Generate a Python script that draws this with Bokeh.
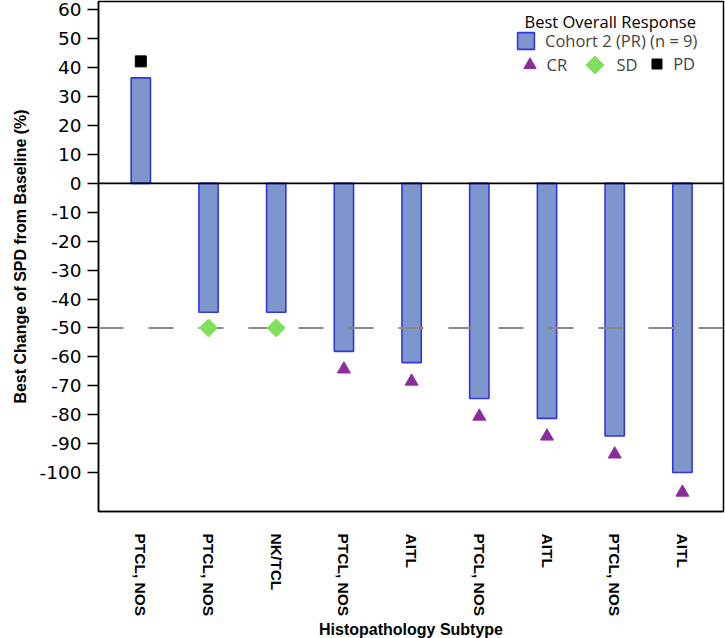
from bokeh.embed import file_html
from bokeh.models import (ColumnDataSource, FixedTicker, Label, Legend,
                          LegendItem, Range1d, Span)
from bokeh.plotting import figure
from bokeh.resources import INLINE

# Per-patient histopathology subtype (x-axis tick labels)
subtypes = ["PTCL, NOS", "PTCL, NOS", "NK/TCL", "PTCL, NOS", "AITL",
            "PTCL, NOS", "AITL", "PTCL, NOS", "AITL"]

# Best change of SPD from baseline (%) for each patient
best_change = [36.5, -44.6, -44.6, -58.1, -62.0, -74.4, -81.3, -87.4, -100.0]

# Best overall response and where its marker sits
response = ["PD", "SD", "SD", "CR", "CR", "CR", "CR", "CR", "CR"]
marker_y = [42.2, -50.0, -50.0, -64.3, -68.5, -80.6, -87.5, -93.7, -106.9]

y_ticks = list(range(-100, 61, 10))

positions = list(range(len(subtypes)))

TICK_FONT = "DejaVu Sans"
BOLD_FONT = "Liberation Sans"
LEGEND_FONT = "Open Sans"
LEGEND_SIZE = "16.5px"

CR_COLOR = "#8C2C9C"
SD_COLOR = "#80E05C"
PD_COLOR = "black"

p = figure(
    frame_width=625, frame_height=510,
    min_border_left=98, min_border_right=2, min_border_top=1, min_border_bottom=127,
    x_range=Range1d(-0.625, 8.607), y_range=Range1d(-113.5, 62.9),
    output_backend="svg", toolbar_location=None,
    background_fill_color="white", border_fill_color="white",
)
p.xgrid.visible = False
p.ygrid.visible = False
p.outline_line_color = "black"
p.outline_line_width = 1.5
p.outline_line_alpha = 1.0

bars_src = ColumnDataSource(dict(x=positions, top=best_change))
bars = p.vbar(x="x", top="top", bottom=0, width=0.285, source=bars_src,
              fill_color="#7D97CD", line_color="#3535E0", line_width=1.6)

# Reference lines: zero and the -50% partial-response threshold
p.add_layout(Span(location=0, dimension="width", line_color="black", line_width=1.8))
p.add_layout(Span(location=-50, dimension="width", line_color="#8a8a8a",
                  line_width=2, line_dash="25 25"))


def pick(kind):
    xs = [x for x, r in zip(positions, response) if r == kind]
    ys = [y for y, r in zip(marker_y, response) if r == kind]
    return ColumnDataSource(dict(x=xs, y=ys))


cr = p.scatter("x", "y", source=pick("CR"), marker="triangle", size=13,
               fill_color=CR_COLOR, line_color=CR_COLOR, level="overlay")
# SD: four-sided polygon standing on a corner (a diamond), sized in pixels
sd = p.ngon("x", "y", source=pick("SD"), radius=9, radius_units="screen", n=4,
            fill_color=SD_COLOR, line_color=SD_COLOR, level="overlay")
pd_ = p.scatter("x", "y", source=pick("PD"), marker="square", size=11,
                fill_color=PD_COLOR, line_color=PD_COLOR, level="overlay")

# Axes
p.xaxis.ticker = FixedTicker(ticks=positions)
p.xaxis.major_label_overrides = {i: s for i, s in zip(positions, subtypes)}
p.xaxis.major_label_orientation = "vertical"
p.xaxis.major_label_text_font = BOLD_FONT
p.xaxis.major_label_text_font_style = "bold"
p.xaxis.major_label_text_font_size = "15.5px"
p.xaxis.major_label_text_color = "black"
p.xaxis.major_label_standoff = 22
p.xaxis.major_tick_out = 0
p.xaxis.major_tick_in = 0
p.xaxis.minor_tick_line_color = None
p.xaxis.axis_line_color = "black"
p.xaxis.axis_line_width = 1.5
p.xaxis.axis_label = "Histopathology Subtype"
p.xaxis.axis_label_text_font = BOLD_FONT
p.xaxis.axis_label_text_font_style = "bold"
p.xaxis.axis_label_text_font_size = "16px"
p.xaxis.axis_label_text_color = "black"
p.xaxis.axis_label_standoff = 2

p.yaxis.ticker = FixedTicker(ticks=y_ticks)
p.yaxis.major_label_overrides = {t: str(t) for t in y_ticks}
p.yaxis.major_label_text_font = TICK_FONT
p.yaxis.major_label_text_font_size = "18.5px"
p.yaxis.major_label_text_color = "black"
p.yaxis.major_label_standoff = 6
p.yaxis.major_tick_out = 11
p.yaxis.major_tick_in = 0
p.yaxis.major_tick_line_width = 1.5
p.yaxis.minor_tick_line_color = None
p.yaxis.axis_line_color = "black"
p.yaxis.axis_line_width = 1.5
p.yaxis.axis_label = "Best Change of SPD from Baseline (%)"
p.yaxis.axis_label_text_font = BOLD_FONT
p.yaxis.axis_label_text_font_style = "bold"
p.yaxis.axis_label_text_font_size = "16px"
p.yaxis.axis_label_text_color = "black"
p.yaxis.axis_label_standoff = 8

# Legend: heading, cohort bar entry, then one row of response markers
p.add_layout(Label(x=426, y=490, x_units="screen", y_units="screen",
                   text="Best Overall Response", text_baseline="middle",
                   text_font=LEGEND_FONT, text_font_size=LEGEND_SIZE,
                   text_color="black"))


def key(label, renderer, loc, glyph, standoff):
    return Legend(items=[LegendItem(label=label, renderers=[renderer])],
                  location=loc, padding=0, margin=0, spacing=0,
                  glyph_width=glyph, glyph_height=glyph, label_standoff=standoff,
                  label_text_font=LEGEND_FONT, label_text_font_size=LEGEND_SIZE,
                  border_line_alpha=0, background_fill_alpha=0)


p.add_layout(key("Cohort 2 (PR) (n = 9)", bars, (417, 459), 21, 9))
p.add_layout(key("CR", cr, (415.5, 431), 31, 2))
p.add_layout(key("SD", sd, (473.5, 423.8), 45, -4))
p.add_layout(key("PD", pd_, (546.2, 434.7), 25, 4))

open("out.html", "w").write(file_html(p, INLINE))
